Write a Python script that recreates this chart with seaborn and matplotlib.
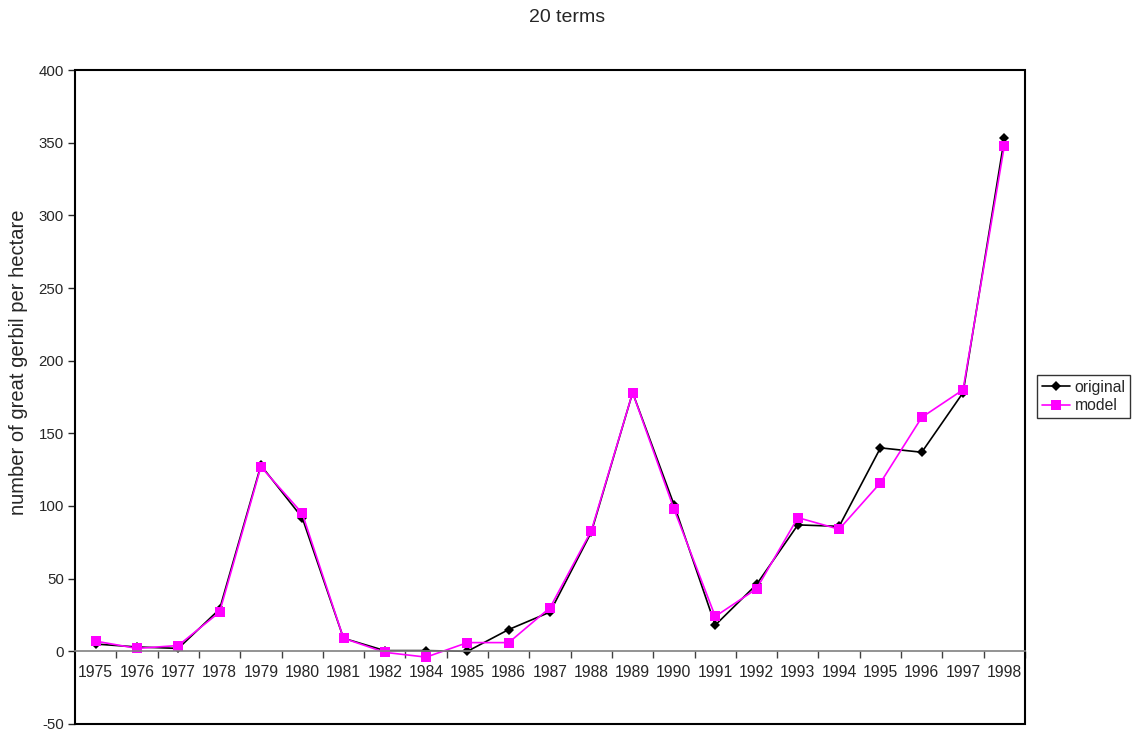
import matplotlib
matplotlib.use('Agg')
import matplotlib.pyplot as plt
import seaborn as sns
import pandas as pd
from matplotlib.patches import Rectangle

# ========= data ==========================
years = ['1975', '1976', '1977', '1978', '1979', '1980', '1981', '1982', '1984',
         '1985', '1986', '1987', '1988', '1989', '1990', '1991', '1992', '1993',
         '1994', '1995', '1996', '1997', '1998']
original = [5, 3, 2, 29, 128, 92, 9, 0.5, 0.5, 0, 15, 27, 82, 178, 101, 18,
            46, 87, 86, 140, 137, 178, 353]
model = [7, 2, 4, 27, 127, 95, 9, -0.7, -4, 6, 6, 30, 83, 178, 98, 24,
         43, 92, 84, 116, 161, 180, 348]

df = pd.DataFrame({
    'year': years * 2,
    'value': original + model,
    'series': ['original'] * len(years) + ['model'] * len(years),
})

# ========= plot ==========================
sns.set_style('white')
plt.rcParams['font.family'] = ['Liberation Sans', 'DejaVu Sans']
plt.rcParams['axes.unicode_minus'] = False

fig = plt.figure(figsize=(11.35, 7.31), dpi=100)
ax = fig.add_axes([0.0661, 0.0096, 0.837, 0.8946])

sns.lineplot(data=df, x='year', y='value', hue='series', style='series',
             palette={'original': 'black', 'model': '#ff00ff'},
             markers={'original': 'D', 'model': 's'},
             dashes=False, sort=False, linewidth=1.2, ax=ax,
             markeredgewidth=0)
for line in ax.lines:
    if line.get_marker() == 'D':
        line.set_markersize(5.5)
    elif line.get_marker() == 's':
        line.set_markersize(7.5)

ax.set_xlim(-0.5, len(years) - 0.5)
ax.set_ylim(-50, 400)
ax.set_yticks(range(-50, 401, 50))
ax.tick_params(axis='y', direction='out', length=5, width=1, labelsize=10.8,
               left=True, pad=3)

# category axis crosses at 0
ax.spines['bottom'].set_position(('data', 0))
ax.spines['bottom'].set_color('#808080')
ax.spines['bottom'].set_linewidth(1.2)
ax.set_xticks(range(len(years)))
ax.set_xticklabels(years)
ax.set_xticks([i + 0.5 for i in range(len(years))], minor=True)
ax.tick_params(axis='x', which='major', length=0, labelsize=11.3, pad=10)
ax.tick_params(axis='x', which='minor', direction='out', length=5, width=1,
               color='#404040', bottom=True)
for s in ['left', 'top', 'right']:
    ax.spines[s].set_color('black')
    ax.spines[s].set_linewidth(1.2)
ax.add_patch(Rectangle((0, 0), 1, 1, transform=ax.transAxes, fill=False,
                       edgecolor='black', linewidth=1.5, clip_on=False))

ax.set_xlabel('')
ax.set_ylabel('number of great gerbil per hectare', fontsize=14.5)
ax.yaxis.set_label_coords(-0.05, 0.553)
fig.suptitle('20 terms', y=0.988, fontsize=14)

handles, labels = ax.get_legend_handles_labels()
ax.legend(handles=handles, labels=labels, loc='center left',
          bbox_to_anchor=(0.9137, 0.4576), bbox_transform=fig.transFigure,
          frameon=True, fancybox=False, edgecolor='black', fontsize=11.3,
          handlelength=1.8, handletextpad=0.3, borderpad=0.3,
          borderaxespad=0, labelspacing=0.2)
ax.get_legend().get_frame().set_linewidth(1)

fig.savefig('out.png', dpi=100)
